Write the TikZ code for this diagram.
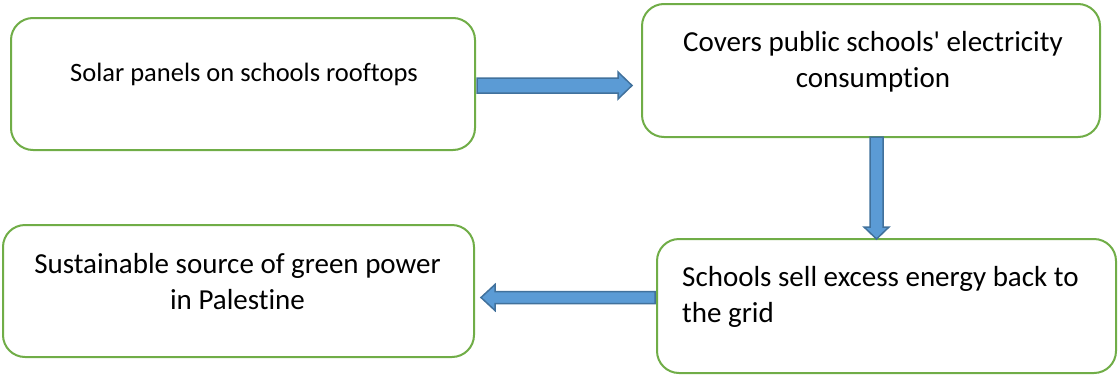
\documentclass[tikz,border=0pt]{standalone}
\usepackage{fontspec}
\setmainfont[Ligatures=NoCommon]{Carlito}
\usetikzlibrary{calc}
\definecolor{boxgreen}{RGB}{112,173,71}
\definecolor{arrowfill}{RGB}{91,155,213}
\definecolor{arrowline}{RGB}{65,113,156}
\tikzset{
    stepbox/.style={draw=boxgreen,line width=2pt,rounded corners=22pt,fill=white},
    steptext/.style={font=\fontsize{29}{36}\selectfont,inner sep=0pt,anchor=base},
    flow/.style={draw=arrowline,fill=arrowfill,line width=1.5pt,line join=miter}
}
\begin{document}
\begin{tikzpicture}[x=1pt,y=-1pt]
        \useasboundingbox (0,0) rectangle (1119,378);
        % boxes
        \node[stepbox,minimum width=464pt,minimum height=132pt] (solar) at (243,84) {};
        \node[stepbox,minimum width=458pt,minimum height=133pt] (covers) at (871,70.5) {};
        \node[stepbox,minimum width=459pt,minimum height=134pt] (sell) at (886.5,306) {};
        \node[stepbox,minimum width=471pt,minimum height=132pt] (green) at (238.5,291) {};
        % texts (base = last line)
        \node[steptext,font=\fontsize{26.5}{36}\selectfont] (solart) at (244,81) {Solar panels on schools rooftops};
        \node[steptext,align=center] (coverst) at (873,87) {Covers public schools\textquotesingle\ electricity\\consumption};
        \node[steptext,align=left,anchor=base west] (sellt) at (682,322) {Schools sell excess energy back to\\the grid};
        \node[steptext,align=center] (greent) at (237.5,309) {Sustainable source of green power\\in Palestine};
        % arrows
        \draw[flow] ([shift={(1,1.5)}]solar.east) ++(0,-7.5) -- ++(141,0) -- ++(0,-6)
            -- ++(14,13.5) -- ++(-14,13.5) -- ++(0,-6) -- ++(-141,0) -- cycle;
        \draw[flow] ([shift={(5.5,-1)}]covers.south) ++(-6.5,0) -- ++(0,90) -- ++(-6,0)
            -- ++(12.5,12) -- ++(12.5,-12) -- ++(-6,0) -- ++(0,-90) -- cycle;
        \draw[flow] ([shift={(-1,-8.5)}]sell.west) ++(0,-6) -- ++(-160,0) -- ++(0,-7)
            -- ++(-14,13) -- ++(14,13) -- ++(0,-7) -- ++(160,0) -- cycle;
\end{tikzpicture}
\end{document}
